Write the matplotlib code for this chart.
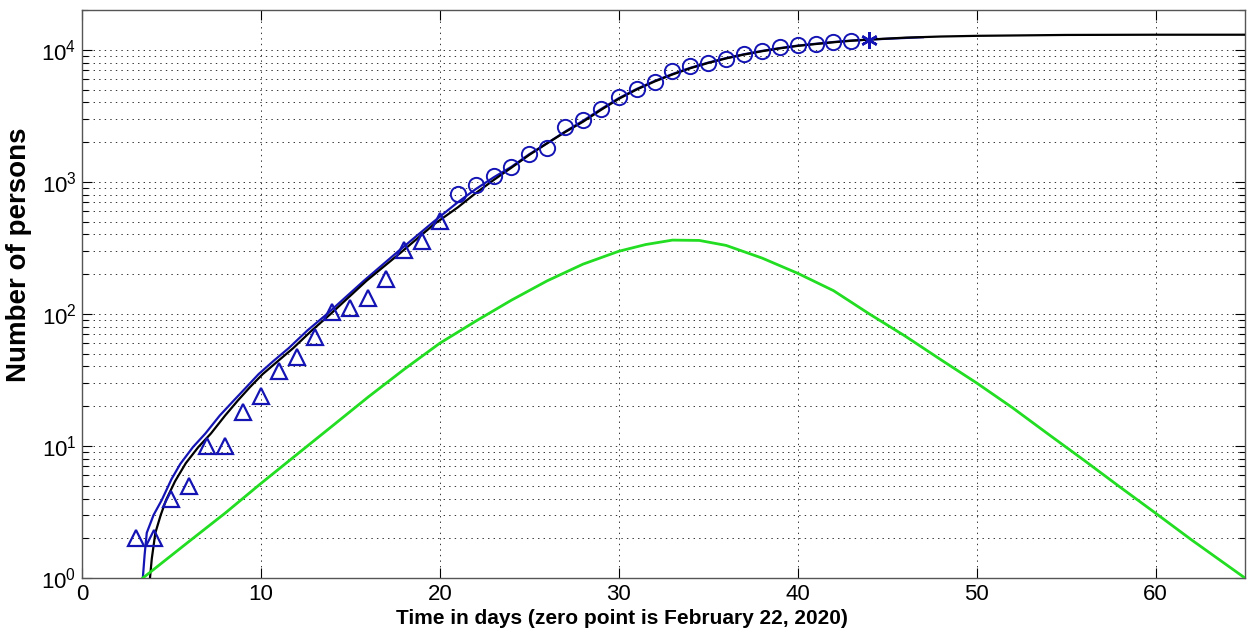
import numpy as np
import matplotlib
matplotlib.use('Agg')
import matplotlib.pyplot as plt
from matplotlib.ticker import LogLocator, FixedLocator, NullFormatter, LogFormatterMathtext

plt.rcParams['font.family'] = ['Liberation Sans', 'DejaVu Sans']
plt.rcParams['mathtext.fontset'] = 'custom'
plt.rcParams['mathtext.rm'] = 'Liberation Sans'
plt.rcParams['lines.scale_dashes'] = False

# measured cases (triangles: early reports, circles: later reports, star: last day)
tri_days = [3, 4, 5, 6, 7, 8, 9, 10, 11, 12, 13, 14, 15, 16, 17, 18, 19, 20]
tri_vals = [2, 2, 4, 5, 10, 10, 18, 24, 37, 47, 67, 103, 111, 132, 183, 303, 355, 505]

circ_days = [21, 22, 23, 24, 25, 26, 27, 28, 29, 30, 31, 32,
             33, 34, 35, 36, 37, 38, 39, 40, 41, 42, 43]
circ_vals = [803, 940, 1110, 1300, 1620, 1790, 2590, 2960, 3590, 4420, 5080, 5740,
             6930, 7580, 8000, 8560, 9300, 9830, 10500, 10900, 11100, 11500, 11700]

star_day = [44]
star_val = [11900]

# fitted curve through the data (blue)
fit_days = [3.4, 3.5, 3.62, 4.0, 4.46, 5.0, 5.49, 6.2, 6.89, 7.7, 8.47, 9.2, 9.87,
            10.7, 11.55, 12.6, 13.7, 15.75, 17.7, 19.66,
            21, 22, 23, 24, 25, 26, 27, 28, 29, 30, 31, 32, 33, 34, 35, 36, 37, 38,
            39, 40, 41, 42, 43, 44, 47]
fit_vals = [1, 1.5, 2.2, 3.0, 3.9, 5.6, 7.3, 9.8, 12.4, 17, 22, 28, 35,
            44, 55, 75, 100, 178, 300, 500,
            700, 880, 1080, 1300, 1620, 1960, 2400, 2900, 3550, 4300, 5050, 5800, 6550,
            7300, 8000, 8650, 9250, 9800, 10300, 10750, 11100, 11450, 11750, 11950, 12450]

# model: cumulative cases (black)
model_days = [3.8, 3.9, 4.1, 4.4, 4.7, 5.2, 5.8, 6.5, 7.2, 8.0, 8.7, 9.4, 10.1, 11.0,
              11.8, 12.8, 13.9, 15.9, 17.8, 19.7, 21, 22, 23,
              24, 25, 26, 27, 28, 29, 30, 31, 32, 33, 34, 35, 36, 37, 38, 39, 40, 41,
              42, 43, 44, 46, 48, 50, 55, 60, 65]
model_vals = [1, 1.4, 2.2, 3.0, 3.9, 5.4, 7.4, 9.8, 12.4, 17, 22, 28, 35, 44.5,
              55, 74, 100, 178, 290, 480, 640, 820, 1030,
              1280, 1600, 1960, 2380, 2850, 3500, 4250, 5000, 5750, 6500, 7250, 7950,
              8600, 9200, 9750, 10250, 10700, 11050, 11400, 11700, 11950, 12350, 12600,
              12750, 12950, 13000, 13000]

# model: currently infected (green)
inf_days = [3.4, 6, 8, 10, 12, 14, 16, 18, 20, 22, 24, 26, 28, 30, 31.5, 33, 34.5,
            36, 38, 40, 42, 44, 46, 48, 50, 52, 54, 56, 58, 60, 62, 65]
inf_vals = [1, 1.9, 3.1, 5.2, 8.6, 14.2, 23.5, 38, 60, 88, 127, 178, 238, 298, 335,
            362, 360, 330, 265, 203, 150, 100, 68, 45, 30, 19.5, 12.3, 7.8, 4.9, 3.1,
            1.95, 1]

blue = '#1414b4'
green = '#22dd22'

fig = plt.figure(figsize=(12.5, 6.34), dpi=100)
ax = fig.add_axes([0.0656, 0.0883, 0.9304, 0.8959])

ax.plot(tri_days, tri_vals, linestyle='none', marker='^', ms=12, mfc='none',
        mec=blue, mew=1.6, zorder=4)
ax.plot(circ_days, circ_vals, linestyle='none', marker='o', ms=11, mfc='none',
        mec=blue, mew=1.4, zorder=4)
ax.plot(star_day, star_val, linestyle='none', marker=(6, 2, 0), ms=12, color=blue,
        mec=blue, mew=1.8, zorder=4)
ax.plot(fit_days, fit_vals, color=blue, lw=1.6, zorder=3)
ax.plot(model_days, model_vals, color='black', lw=1.6, zorder=3)
ax.plot(inf_days, inf_vals, color=green, lw=2.0, zorder=3)

ax.set_yscale('log')
ax.set_xlim(0, 65)
ax.set_ylim(1, 2e4)
ax.xaxis.set_major_locator(FixedLocator([0, 10, 20, 30, 40, 50, 60]))
ax.yaxis.set_major_locator(LogLocator(base=10, numticks=10))
ax.yaxis.set_major_formatter(LogFormatterMathtext())
ax.yaxis.set_minor_locator(LogLocator(base=10, subs=np.arange(2, 10), numticks=20))
ax.yaxis.set_minor_formatter(NullFormatter())

ax.tick_params(which='both', direction='in', top=True, right=True, labelsize=16)
ax.tick_params(which='major', length=7, width=0.8)
ax.tick_params(which='minor', length=4, width=0.8)
ax.tick_params(axis='x', pad=4)
ax.tick_params(axis='y', pad=4)

ax.grid(True, which='major', axis='both', color='#333333', linestyle=(0, (1, 3)), lw=0.7)
ax.grid(True, which='minor', axis='y', color='#333333', linestyle=(0, (1, 3)), lw=0.7)
ax.set_axisbelow(True)
for s in ax.spines.values():
    s.set_color('#555555')
    s.set_linewidth(1.0)

ax.set_xlabel('Time in days (zero point is February 22, 2020)', fontsize=15, fontweight='bold')
ax.set_ylabel('Number of persons', fontsize=20, fontweight='bold')
ax.xaxis.set_label_coords(0.464, -0.055)
ax.yaxis.set_label_coords(-0.043, 0.569)

fig.savefig('out.png', dpi=100)
